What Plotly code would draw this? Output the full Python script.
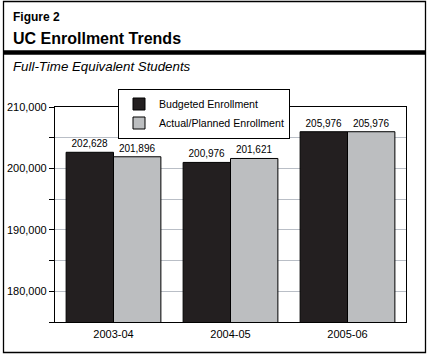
import plotly.graph_objects as go

categories = ["2003-04", "2004-05", "2005-06"]
budgeted = [202628, 200976, 205976]
actual = [201896, 201621, 205976]
series_names = ["Budgeted Enrollment", "Actual/Planned Enrollment"]
ytick_vals = [175000, 180000, 185000, 190000, 195000, 200000, 205000, 210000]
ytick_text = ["", "180,000", "", "190,000", "", "200,000", "", "210,000"]

FONT = "Liberation Sans, Arial, Helvetica, sans-serif"
W, H = 429, 357
L, R, T, B = 55, 23, 107, 35
PW, PH = W - L - R, H - T - B


def px(x):
    return (x - L) / PW


def py(y):
    return 1 - (y - T) / PH


fig = go.Figure()
fig.add_trace(go.Bar(
    x=categories, y=budgeted, name=series_names[0],
    marker=dict(color="#231f20", line=dict(color="#000000", width=1)),
    text=[f"{v:,}" for v in budgeted], textposition="outside",
    textfont=dict(size=10, color="#000000", family=FONT), cliponaxis=False,
))
fig.add_trace(go.Bar(
    x=categories, y=actual, name=series_names[1],
    marker=dict(color="#bcbec0", line=dict(color="#000000", width=1)),
    text=[f"{v:,}" for v in actual], textposition="outside",
    textfont=dict(size=10, color="#000000", family=FONT), cliponaxis=False,
))

shapes = [
    dict(type="rect", xref="paper", yref="paper",
         x0=px(3.5), x1=px(425.5), y0=py(352.5), y1=py(1.5),
         line=dict(color="#000000", width=1.3), layer="below"),
    dict(type="line", xref="paper", yref="paper",
         x0=px(3.5), x1=px(425.5), y0=py(52.5), y1=py(52.5),
         line=dict(color="#000000", width=4.5)),
]

annotations = [
    dict(text="<b>Figure 2</b>", xref="paper", yref="paper",
         x=px(11), y=py(17), xanchor="left", yanchor="middle",
         showarrow=False, font=dict(size=12, color="#000000", family=FONT)),
    dict(text="<b>UC Enrollment Trends</b>", xref="paper", yref="paper",
         x=px(11), y=py(38.5), xanchor="left", yanchor="middle",
         showarrow=False, font=dict(size=16, color="#000000", family=FONT)),
    dict(text="<i>Full-Time Equivalent Students</i>", xref="paper", yref="paper",
         x=px(11), y=py(66), xanchor="left", yanchor="middle",
         showarrow=False, font=dict(size=13.3, color="#000000", family=FONT)),
]

fig.update_layout(
    width=W, height=H, autosize=False,
    margin=dict(l=L, r=R, t=T, b=B, autoexpand=False),
    paper_bgcolor="#ffffff", plot_bgcolor="#ffffff",
    barmode="group", bargap=0.19, bargroupgap=0,
    font=dict(family=FONT, size=11, color="#000000"),
    showlegend=True,
    legend=dict(x=px(118), y=py(88.5), xanchor="left", yanchor="top",
                bgcolor="#ffffff", bordercolor="#000000", borderwidth=1,
                font=dict(size=10.6, family=FONT, color="#000000"),
                tracegroupgap=0, itemwidth=30),
    shapes=shapes, annotations=annotations,
)
fig.update_xaxes(
    type="category", range=[-0.5, 2.5], showline=True, linecolor="#000000",
    linewidth=1.2, mirror=True, ticks="", showgrid=False, automargin=False,
    ticklabelstandoff=2,
    tickfont=dict(size=11, family=FONT, color="#000000"),
)
fig.update_yaxes(
    range=[175000, 210000], tickvals=ytick_vals, ticktext=ytick_text,
    showline=True, linecolor="#000000", linewidth=1.2, mirror=True,
    ticks="outside", ticklen=5, tickcolor="#000000", tickwidth=1,
    showgrid=True, gridcolor="#b9bec6", gridwidth=1, zeroline=False,
    automargin=False,
    tickfont=dict(size=11, family=FONT, color="#000000"),
)

fig.write_html(
    "out.html",
    config={"displayModeBar": False},
    post_script="document.body.style.margin='0';document.body.style.overflow='hidden';",
)
